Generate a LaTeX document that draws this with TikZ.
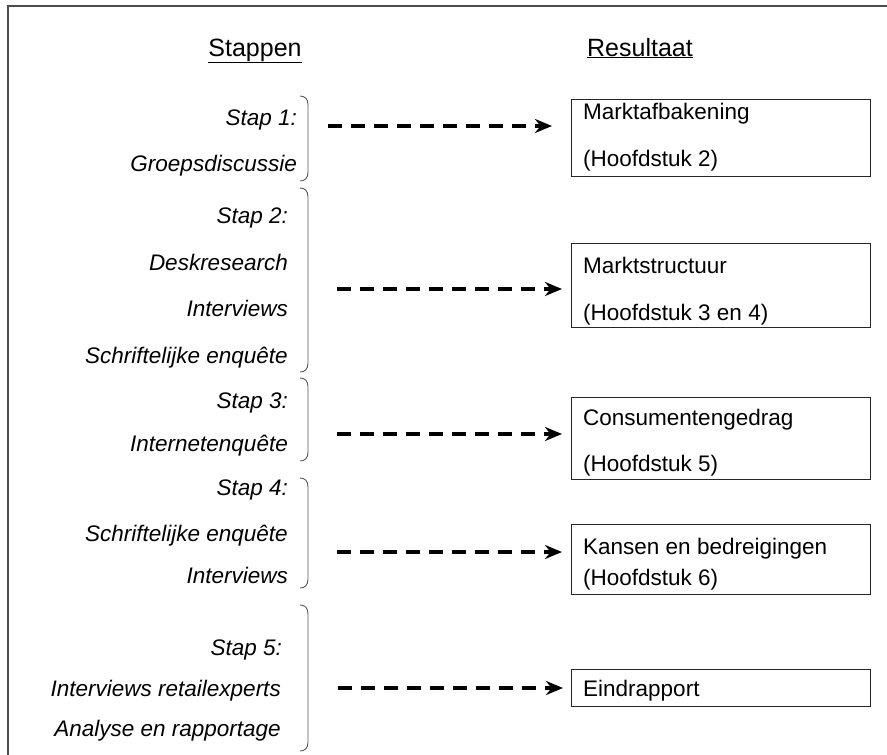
\documentclass[tikz,border=0pt]{standalone}
\usepackage{fontspec}
\setmainfont{Liberation Sans}
\usetikzlibrary{arrows.meta}
\newcommand{\mybrace}[2]{\draw[brace] (300,#1) .. controls (305,#1) and (308,#1+3) .. (308,#1+9) -- (308,#2-9) .. controls (308,#2-3) and (305,#2) .. (300,#2);}
\begin{document}
\begin{tikzpicture}[x=1pt,y=-1pt,
  frame/.style={line width=1.3pt, draw=black!70},
  resbox/.style={draw=black!85, line width=1.3pt, minimum width=299pt, inner sep=0pt, anchor=north west},
  steptxt/.style={font=\fontsize{22.5}{26}\selectfont\itshape, anchor=base east, inner sep=0pt},
  restxt/.style={font=\fontsize{22.5}{26}\selectfont, anchor=base west, inner sep=0pt},
  title/.style={font=\fontsize{25}{30}\selectfont, anchor=base, inner sep=0pt},
  brace/.style={draw=black!65, line width=0.9pt},
  arr/.style={line width=3.4pt, dash pattern=on 14pt off 9pt, -{Stealth[length=17pt,width=14pt]}}]
\useasboundingbox (0,0) rectangle (887,755);
\draw[frame] (8,755) -- (8,6) -- (887,6);
% titles
\node[title] (tS) at (255,56) {\underline{Stappen}};
\node[title] (tR) at (640,56) {\underline{Resultaat}};
% step texts
\node[steptxt] (s1a) at (297,125) {Stap 1:};
\node[steptxt] (s1b) at (297,171) {Groepsdiscussie};
\node[steptxt] (s2a) at (288,223) {Stap 2:};
\node[steptxt] (s2b) at (288,270) {Deskresearch};
\node[steptxt] (s2c) at (288,316) {Interviews};
\node[steptxt] (s2d) at (288,363) {Schriftelijke enquête};
\node[steptxt] (s3a) at (288,408) {Stap 3:};
\node[steptxt] (s3b) at (288,451) {Internetenquête};
\node[steptxt] (s4a) at (288,495) {Stap 4:};
\node[steptxt] (s4b) at (288,541) {Schriftelijke enquête};
\node[steptxt] (s4c) at (288,583) {Interviews};
\node[steptxt] (s5a) at (282,655) {Stap 5:};
\node[steptxt] (s5b) at (281,696) {Interviews retailexperts};
\node[steptxt] (s5c) at (281,736) {Analyse en rapportage};
% braces
\mybrace{96}{181}
\mybrace{188}{372}
\mybrace{378}{461}
\mybrace{478}{588}
\mybrace{605}{751}
% result boxes
\node[resbox, minimum height=77pt] (r1) at (571,99) {};
\node[resbox, minimum height=84pt] (r2) at (571,243) {};
\node[resbox, minimum height=82pt] (r3) at (571,397) {};
\node[resbox, minimum height=70pt] (r4) at (571,524) {};
\node[resbox, minimum height=37pt] (r5) at (571,669) {};
\node[restxt] (r1a) at (583,119) {Marktafbakening};
\node[restxt] (r1b) at (583,166) {(Hoofdstuk 2)};
\node[restxt] (r2a) at (583,273) {Marktstructuur};
\node[restxt] (r2b) at (583,320) {(Hoofdstuk 3 en 4)};
\node[restxt] (r3a) at (583,425) {Consumentengedrag};
\node[restxt] (r3b) at (583,471) {(Hoofdstuk 5)};
\node[restxt] (r4a) at (583,554) {Kansen en bedreigingen};
\node[restxt] (r4b) at (583,585) {(Hoofdstuk 6)};
\node[restxt] (r5a) at (583,696) {Eindrapport};
% arrows
\coordinate (a1) at (328,126);
\coordinate (a2) at (337,289);
\coordinate (a3) at (337,434);
\coordinate (a4) at (337,552);
\coordinate (a5) at (338,688);
\draw[arr, shorten >=19pt] (a1) -- (a1 -| r1.west);
\draw[arr, shorten >=9pt] (a2) -- (a2 -| r2.west);
\draw[arr, shorten >=9pt] (a3) -- (a3 -| r3.west);
\draw[arr, shorten >=9pt] (a4) -- (a4 -| r4.west);
\draw[arr, shorten >=8pt] (a5) -- (a5 -| r5.west);
\end{tikzpicture}
\end{document}
